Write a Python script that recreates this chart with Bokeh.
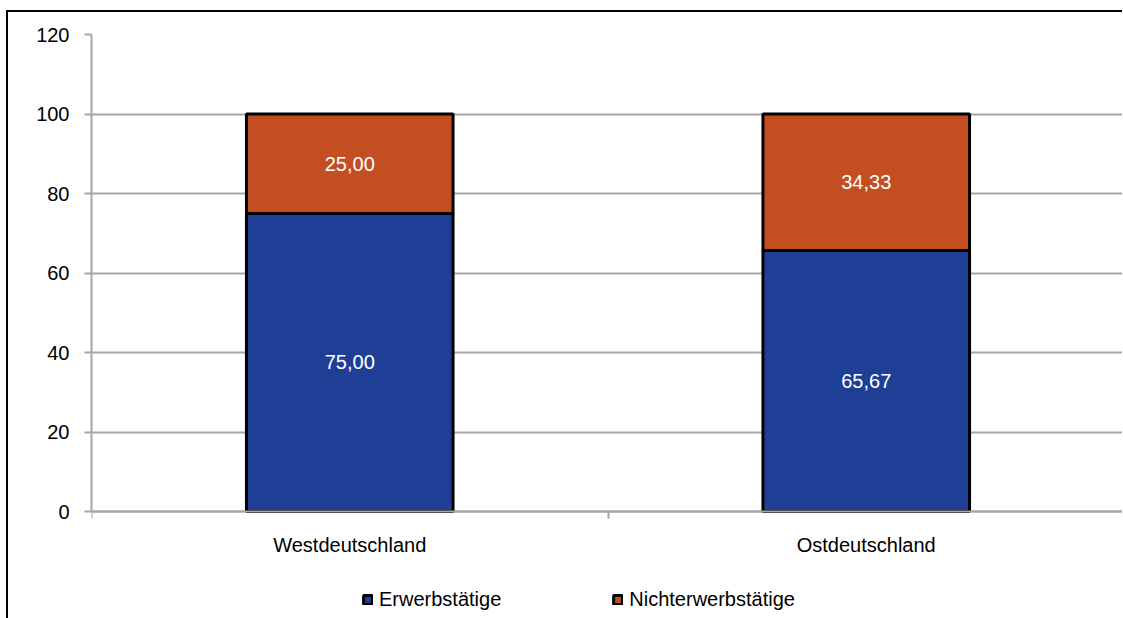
from bokeh.plotting import figure
from bokeh.models import (ColumnDataSource, FixedTicker, Range1d, Legend, LegendItem)
from bokeh.core.properties import value
from bokeh.embed import file_html
from bokeh.resources import INLINE

categories = ["Westdeutschland", "Ostdeutschland"]
erwerbstaetige = [75.00, 65.67]
nichterwerbstaetige = [25.00, 34.33]
series_names = ["Erwerbstätige", "Nichterwerbstätige"]
y_ticks = [0, 20, 40, 60, 80, 100, 120]

FONT = "Liberation Sans"
FS = "20px"
BLUE = "#1F3F97"
ORANGE = "#C34E21"
GRID = "#A6A6A6"

xs = [i + 0.5 for i in range(len(categories))]
bottom1 = [0] * len(categories)
top1 = [b + v for b, v in zip(bottom1, erwerbstaetige)]
bottom2 = top1
top2 = [b + v for b, v in zip(bottom2, nichterwerbstaetige)]

src = ColumnDataSource(dict(
    x=xs, b1=bottom1, t1=top1, b2=bottom2, t2=top2,
    m1=[(b + t) / 2 for b, t in zip(bottom1, top1)],
    m2=[(b + t) / 2 for b, t in zip(bottom2, top2)],
    l1=[f"{v:.2f}".replace(".", ",") for v in erwerbstaetige],
    l2=[f"{v:.2f}".replace(".", ",") for v in nichterwerbstaetige],
))

FRAME_H = 588
Y_MAX = 120
Y_MIN = Y_MAX - FRAME_H * Y_MAX / 477.0

p = figure(width=1116, height=610, output_backend="svg", toolbar_location=None,
           x_range=Range1d(0, len(categories)), y_range=Range1d(Y_MIN, Y_MAX),
           min_border_left=83, min_border_right=0, min_border_top=22,
           min_border_bottom=0)
p.margin = (10, 0, 0, 6)
p.styles = {"border-left": "2px solid black", "border-top": "2px solid black"}
p.outline_line_color = None
p.background_fill_color = "white"
p.border_fill_color = "white"

r1 = p.vbar(x="x", bottom="b1", top="t1", width=0.4, source=src,
            fill_color=BLUE, line_color="black", line_width=3)
r2 = p.vbar(x="x", bottom="b2", top="t2", width=0.4, source=src,
            fill_color=ORANGE, line_color="black", line_width=3)

for m, l in (("m1", "l1"), ("m2", "l2")):
    p.text(x="x", y=m, text=l, source=src, text_color="white",
           text_font=value(FONT), text_font_size=FS,
           text_align="center", text_baseline="middle")

# y axis
p.yaxis.ticker = FixedTicker(ticks=y_ticks)
p.yaxis.bounds = (0, Y_MAX)
p.yaxis.axis_line_color = GRID
p.yaxis.axis_line_width = 2
p.yaxis.major_tick_line_color = GRID
p.yaxis.major_tick_line_width = 2
p.yaxis.major_tick_out = 7
p.yaxis.major_tick_in = 0
p.yaxis.minor_tick_line_color = None
p.yaxis.major_label_text_font = FONT
p.yaxis.major_label_text_font_size = FS
p.yaxis.major_label_text_color = "black"
p.yaxis.major_label_standoff = 15

# x axis, fixed at y = 0
p.xaxis.fixed_location = 0
p.xaxis.ticker = FixedTicker(ticks=xs, minor_ticks=list(range(len(categories) + 1)))
p.xaxis.major_label_overrides = {x: c for x, c in zip(xs, categories)}
p.xaxis.axis_line_color = GRID
p.xaxis.axis_line_width = 2
p.xaxis.major_tick_line_color = None
p.xaxis.major_tick_out = 0
p.xaxis.major_tick_in = 0
p.xaxis.minor_tick_line_color = GRID
p.xaxis.minor_tick_line_width = 2
p.xaxis.minor_tick_out = 7
p.xaxis.minor_tick_in = 0
p.xaxis.major_label_text_font = FONT
p.xaxis.major_label_text_font_size = FS
p.xaxis.major_label_text_color = "black"
p.xaxis.major_label_standoff = 15

p.xgrid.grid_line_color = None
p.ygrid.ticker = FixedTicker(ticks=y_ticks)
p.ygrid.grid_line_color = GRID
p.ygrid.grid_line_width = 2

legend = Legend(items=[LegendItem(label=series_names[0], renderers=[r1]),
                       LegendItem(label=series_names[1], renderers=[r2])],
                orientation="horizontal", location=(271, 11),
                glyph_width=11, glyph_height=11, label_standoff=6,
                spacing=111, padding=0, margin=0,
                label_text_font=FONT, label_text_font_size=FS,
                label_text_color="black",
                border_line_color=None, background_fill_alpha=0)
p.add_layout(legend, "center")

open("out.html", "w").write(file_html(p, INLINE))
